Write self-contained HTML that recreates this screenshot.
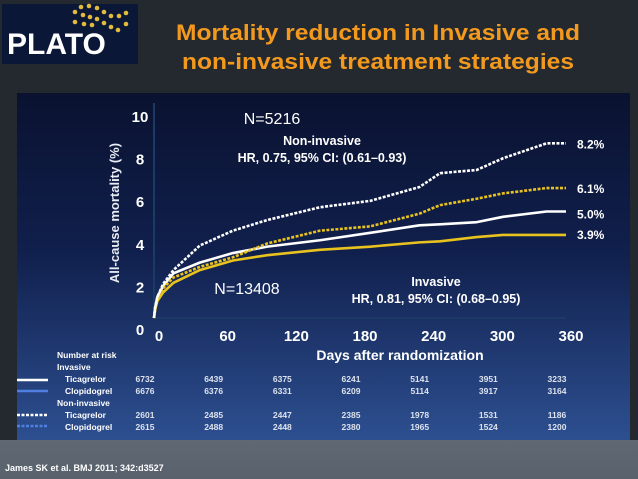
<!DOCTYPE html>
<html><head><meta charset="utf-8"><style>
html,body{margin:0;padding:0;width:638px;height:479px;overflow:hidden;background:#23292f;font-family:"Liberation Sans",sans-serif}
</style></head><body>
<svg width="638" height="479" viewBox="0 0 638 479" xmlns="http://www.w3.org/2000/svg">
<defs>
<linearGradient id="pg" x1="0" y1="0" x2="0" y2="1">
<stop offset="0" stop-color="#0a1230"/><stop offset="0.45" stop-color="#101f4c"/><stop offset="1" stop-color="#2d4f90"/></linearGradient>
<linearGradient id="bg2" x1="0" y1="0" x2="0" y2="1"><stop offset="0" stop-color="#5f6873"/><stop offset="1" stop-color="#58616c"/></linearGradient>
</defs>
<rect x="0" y="440" width="638" height="39" fill="url(#bg2)"/>
<rect x="17" y="93" width="613" height="347" fill="url(#pg)"/>
<g>
<rect x="2" y="4" width="136" height="60" fill="#0b1736"/>
<text x="7" y="54" font-size="30" font-weight="bold" fill="#fff">PLATO</text>
<g fill="#e2bb3c">
<circle cx="81" cy="7" r="2.3"/><circle cx="89" cy="6" r="2.3"/><circle cx="97" cy="8" r="2.3"/><circle cx="104" cy="12" r="2.3"/><circle cx="111" cy="16" r="2.3"/><circle cx="119" cy="16" r="2.3"/><circle cx="126" cy="13" r="2.3"/>
<circle cx="75" cy="12" r="2.3"/><circle cx="83" cy="15" r="2.3"/><circle cx="90" cy="17" r="2.3"/><circle cx="97" cy="19" r="2.3"/><circle cx="104" cy="23" r="2.3"/><circle cx="111" cy="27" r="2.3"/><circle cx="118" cy="30" r="2.3"/><circle cx="126" cy="24" r="2.3"/>
<circle cx="75" cy="22" r="2.3"/><circle cx="84" cy="24" r="2.3"/><circle cx="92" cy="25" r="2.3"/>
</g></g>
<g font-weight="bold" font-size="22" fill="#f39a1e" text-anchor="middle">
<text x="378" y="40" textLength="404" lengthAdjust="spacingAndGlyphs">Mortality reduction in Invasive and</text>
<text x="378" y="69" textLength="392" lengthAdjust="spacingAndGlyphs">non-invasive treatment strategies</text>
</g>
<g id="chart"></g>
<text x="5" y="471" font-size="9" font-weight="bold" fill="#fff">James SK et al. BMJ 2011; 342:d3527</text>
</svg>
<script>
const days = [0,1,3,8,17,40,69,99,145,189,232,250,282,305,343,360];
const clopNonInv = [0,0.5,1.0,1.6,2.25,3.4,4.1,4.6,5.2,5.5,6.15,6.8,6.95,7.5,8.2,8.2];
const ticNonInvVals = [0,0.4,0.9,1.4,1.9,2.4,2.85,3.5,4.1,4.3,4.9,5.3,5.6,5.85,6.1,6.1];
const clopInv = [0,0.5,1.0,1.5,2.1,2.6,3.05,3.35,3.65,4.0,4.35,4.4,4.5,4.75,5.0,5.0];
const ticInv = [0,0.4,0.8,1.2,1.65,2.25,2.7,2.95,3.2,3.35,3.55,3.6,3.8,3.9,3.9,3.9];
const endLabels = ["8.2%","6.1%","5.0%","3.9%"];
const xTicks = [0,60,120,180,240,300,360];
const yTicks = [0,2,4,6,8,10];
const riskLabels = ["Ticagrelor","Clopidogrel","Ticagrelor","Clopidogrel"];
const riskInvTic = [6732,6439,6375,6241,5141,3951,3233];
const riskInvClop = [6676,6376,6331,6209,5114,3917,3164];
const riskNonTic = [2601,2485,2447,2385,1978,1531,1186];
const riskNonClop = [2615,2488,2448,2380,1965,1524,1200];

const NS='http://www.w3.org/2000/svg';
const g=document.getElementById('chart');
const X=d=>154+d*(412/360);
const Y=v=>318-v*21.3;
function mk(t,a,txt){const e=document.createElementNS(NS,t);for(const k in a)e.setAttribute(k,a[k]);if(txt!==undefined)e.textContent=txt;g.appendChild(e);return e;}
let ax=mk('path',{d:`M${X(0)},${Y(10)-2}V${Y(0)}H${X(360)}`,stroke:'#1c3a66',fill:'none','stroke-width':2});


yTicks.forEach(v=>{const t=mk('text',{x:140,y:Y(v)+17,'font-size':15,'font-weight':'bold',fill:'#fff','text-anchor':'middle'},String(v));

});
xTicks.forEach(d=>{const t=mk('text',{x:X(d)+5,y:341,'font-size':15,'font-weight':'bold',fill:'#fff','text-anchor':'middle'},String(d));

});
let xt=mk('text',{x:400,y:360,'font-size':14,'font-weight':'bold',fill:'#fff','text-anchor':'middle'},'Days after randomization');


let yt=mk('text',{x:0,y:0,'font-size':13,'font-weight':'bold',fill:'#e8ecf4','text-anchor':'middle',transform:'translate(119,213) rotate(-90)'},'All-cause mortality (%)');


function step(vals){let p=`M${X(days[0])},${Y(vals[0])}`;for(let i=1;i<days.length;i++){p+=`L${X(days[i])},${Y(vals[i])}`;}return p;}
const series=[[ticInv,'#e8c21e',null,'line-invasive-ticagrelor'],[clopInv,'#ffffff',null,'line-invasive-clopidogrel'],[ticNonInvVals,'#e8c21e','3 1.5','line-noninvasive-ticagrelor'],[clopNonInv,'#ffffff','3 1.5','line-noninvasive-clopidogrel']];
series.forEach(s=>{const a={d:step(s[0]),stroke:s[1],fill:'none','stroke-width':2.6,'stroke-linejoin':'round'};if(s[2])a['stroke-dasharray']=s[2];const p=mk('path',a);

});
const ends=[clopNonInv,ticNonInvVals,clopInv,ticInv];
ends.forEach((s,i)=>{const off=[0,0,2,-1][i];const t=mk('text',{x:577,y:Y(s[s.length-1])+5+off,'font-size':12,'font-weight':'bold',fill:'#fff'},endLabels[i]);

});
function txt(x,y,s,sz,w,name,anc){const t=mk('text',{x:x,y:y,'font-size':sz,'font-weight':w,fill:'#fff','text-anchor':anc||'middle'},s);

}
txt(272,124,'N=5216',16,'normal','n-noninvasive');
txt(322,145,'Non-invasive',12.5,'bold','noninvasive-label');
txt(322,162,'HR, 0.75, 95% CI: (0.61–0.93)',12.5,'bold','noninvasive-hr');
txt(247,294,'N=13408',16,'normal','n-invasive');
txt(436,286,'Invasive',12.5,'bold','invasive-label');
txt(436,303,'HR, 0.81, 95% CI: (0.68–0.95)',12.5,'bold','invasive-hr');
txt(57,358,'Number at risk',8.5,'bold','risk-table-title','start');
txt(57,370,'Invasive',8.5,'bold','risk-group-invasive','start');
txt(57,406,'Non-invasive',8.5,'bold','risk-group-noninvasive','start');
const rows=[riskInvTic,riskInvClop,riskNonTic,riskNonClop];const ry=[382,394,418,430];
rows.forEach((r,i)=>{txt(65,ry[i],riskLabels[i],8.5,'bold','risk-row-label','start');
xTicks.forEach((d,j)=>{const t=mk('text',{x:X(d)-9,y:ry[i],'font-size':8.5,'font-weight':'bold',fill:'#dde3ee','text-anchor':'middle'},String(r[j]));

});});
[[380,'#fff',null],[391,'#4f7fe0',null],[415,'#fff','3 1.5'],[426,'#4f7fe0','3 1.5']].forEach(l=>{const a={x1:17,x2:48,y1:l[0],y2:l[0],stroke:l[1],'stroke-width':2.5};if(l[2])a['stroke-dasharray']=l[2];const e=mk('line',a);

});
</script>
</body></html>
